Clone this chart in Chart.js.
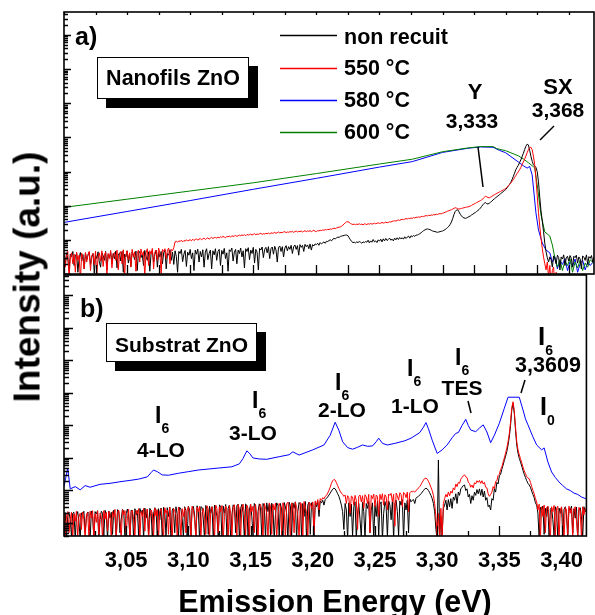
<!DOCTYPE html>
<html>
<head>
<meta charset="utf-8">
<script src="https://cdn.jsdelivr.net/npm/chart.js@4.4.1/dist/chart.umd.min.js"></script>
<style>
html,body{margin:0;padding:0;background:#fff;}
body{width:595px;height:615px;position:relative;overflow:hidden;font-family:'Liberation Sans',Arial,sans-serif;font-weight:bold;color:#000;}
canvas{position:absolute;left:0;}
#ca{top:0;}
#cb{top:270px;}
.t{position:absolute;line-height:1;white-space:nowrap;}
.c{transform:translateX(-50%);}
.s{font-size:14px;position:relative;top:10px;}
.box{position:absolute;box-sizing:border-box;background:#fff;border:1px solid #000;box-shadow:9px 9px 0 #000;text-align:center;line-height:1;white-space:nowrap;}
#ytitle{position:absolute;left:27px;top:277px;font-size:37px;line-height:1;white-space:nowrap;transform:translate(-50%,-50%) rotate(-90deg);}
#xtitle{position:absolute;left:335px;top:586px;font-size:30.5px;line-height:1;white-space:nowrap;transform:translateX(-50%);}
svg{position:absolute;left:0;top:0;}
</style>
</head>
<body>
<canvas id="ca" width="595" height="280"></canvas>
<canvas id="cb" width="595" height="355"></canvas>

<div id="ytitle">Intensity (a.u.)</div>
<div id="xtitle">Emission Energy (eV)</div>

<!-- panel a annotations -->
<div class="t" style="left:75px;top:24px;font-size:25px;">a)</div>
<div class="box" style="left:97px;top:57px;width:152px;height:42px;padding-top:10px;font-size:21.5px;">Nanofils ZnO</div>
<div class="t" style="left:344px;top:27px;font-size:21.5px;">non recuit</div>
<div class="t" style="left:344px;top:58px;font-size:21.5px;">550 °C</div>
<div class="t" style="left:344px;top:90px;font-size:21.5px;">580 °C</div>
<div class="t" style="left:344px;top:122px;font-size:21.5px;">600 °C</div>
<div class="t c" style="left:475px;top:81px;font-size:22px;">Y</div>
<div class="t c" style="left:472px;top:110px;font-size:21px;">3,333</div>
<div class="t c" style="left:558px;top:76px;font-size:22px;">SX</div>
<div class="t c" style="left:558px;top:99px;font-size:21px;">3,368</div>

<!-- panel b annotations -->
<div class="t" style="left:80px;top:296px;font-size:25px;">b)</div>
<div class="box" style="left:106px;top:323px;width:151px;height:39px;padding-top:10px;font-size:21px;">Substrat ZnO</div>
<div class="t" style="left:155px;top:404px;font-size:23px;">I<span class="s">6</span></div>
<div class="t c" style="left:161px;top:439px;font-size:21px;">4-LO</div>
<div class="t" style="left:252px;top:389px;font-size:23px;">I<span class="s">6</span></div>
<div class="t c" style="left:253px;top:422px;font-size:21px;">3-LO</div>
<div class="t" style="left:335px;top:371px;font-size:23px;">I<span class="s">6</span></div>
<div class="t c" style="left:342px;top:399px;font-size:21px;">2-LO</div>
<div class="t" style="left:407px;top:357px;font-size:23px;">I<span class="s">6</span></div>
<div class="t c" style="left:415px;top:395px;font-size:21px;">1-LO</div>
<div class="t" style="left:455px;top:346px;font-size:23px;">I<span class="s">6</span></div>
<div class="t c" style="left:462px;top:377px;font-size:21px;">TES</div>
<div class="t" style="left:538px;top:323px;font-size:26px;">I<span class="s">6</span></div>
<div class="t c" style="left:548px;top:355px;font-size:21.5px;">3,3609</div>
<div class="t" style="left:540px;top:394px;font-size:25px;">I<span class="s">0</span></div>

<svg width="595" height="615">
  <g stroke-width="1.3">
    <line x1="280" y1="35.5" x2="337" y2="35.5" stroke="#000"/>
    <line x1="280" y1="68.5" x2="337" y2="68.5" stroke="#ff0000"/>
    <line x1="280" y1="100.5" x2="337" y2="100.5" stroke="#0000ff"/>
    <line x1="280" y1="132.5" x2="337" y2="132.5" stroke="#008000"/>
  </g>
  <g stroke="#000" stroke-width="1.5">
    <line x1="478" y1="147" x2="483" y2="187"/>
    <line x1="540" y1="140" x2="554" y2="126"/>
    <line x1="468" y1="401" x2="471" y2="413"/>
    <line x1="525" y1="380" x2="521" y2="393"/>
  </g>
</svg>

<script>
// energy sampling of the dense spectra (eV): 3.000 .. 3.420, one value per 0.001 eV
const gridE = Array.from({length: 421}, (_, i) => +(3 + i * 0.001).toFixed(3));

// x axis tick labels
const xTickValues = [3.05, 3.10, 3.15, 3.20, 3.25, 3.30, 3.35, 3.40];
const xTickLabels = ['3,05', '3,10', '3,15', '3,20', '3,25', '3,30', '3,35', '3,40'];

// ---- panel a) Nanofils ZnO, log10 intensity (rows of 0.02 eV) ----
const aBlack = [
  0.55,0.30,0.62,0.45,0.10,0.58,0.50,0.66,0.25,0.52,0.60,0.05,0.48,0.63,0.38,0.57,0.15,0.61,0.42,0.55,
  0.64,0.28,0.50,0.60,0.02,0.56,0.45,0.65,0.35,0.20,0.62,0.54,0.40,0.66,0.12,0.58,0.48,0.63,0.30,0.60,
  0.45,0.67,0.18,0.55,0.62,0.38,0.66,0.05,0.58,0.50,0.68,0.32,0.60,0.22,0.64,0.55,0.42,0.67,0.10,0.61,
  0.66,0.48,0.58,0.25,0.69,0.52,0.40,0.65,0.08,0.60,0.68,0.35,0.57,0.70,0.20,0.63,0.50,0.66,0.30,0.62,
  0.70,0.15,0.60,0.55,0.71,0.40,0.64,0.28,0.68,0.52,0.05,0.66,0.60,0.72,0.36,0.58,0.69,0.22,0.64,0.55,
  0.72,0.45,0.62,0.10,0.70,0.58,0.73,0.35,0.66,0.50,0.71,0.20,0.64,0.74,0.42,0.60,0.70,0.15,0.68,0.56,
  0.74,0.40,0.66,0.72,0.25,0.69,0.58,0.75,0.45,0.62,0.08,0.71,0.66,0.76,0.38,0.64,0.72,0.30,0.70,0.60,
  0.76,0.50,0.68,0.18,0.74,0.66,0.77,0.42,0.70,0.60,0.78,0.32,0.72,0.64,0.12,0.75,0.70,0.79,0.48,0.72,
  0.78,0.62,0.80,0.45,0.74,0.79,0.58,0.81,0.70,0.35,0.78,0.82,0.66,0.80,0.50,0.76,0.83,0.68,0.80,0.72,
  0.84,0.60,0.80,0.85,0.72,0.83,0.55,0.86,0.78,0.84,0.66,0.87,0.80,0.85,0.74,0.88,0.70,0.86,0.82,0.88,
  0.86,0.90,0.84,0.92,0.88,0.91,0.94,0.90,0.96,0.95,0.98,1.00,0.97,1.02,1.04,1.03,1.06,1.08,1.07,1.10,
  1.11,1.12,1.13,1.14,1.14,1.12,1.06,1.00,0.95,0.92,0.93,0.91,0.94,0.92,0.95,0.93,0.90,0.94,0.92,0.95,
  0.93,0.99,0.91,0.97,0.93,1.01,0.94,0.97,0.92,1.00,0.96,1.02,0.94,1.03,0.97,1.04,0.98,1.01,1.05,0.99,
  1.02,0.97,1.05,1.00,1.06,1.01,1.07,1.03,1.06,1.02,1.09,1.04,1.08,1.11,1.05,1.12,1.09,1.13,1.10,1.14,
  1.14,1.16,1.18,1.21,1.24,1.27,1.29,1.31,1.32,1.31,1.30,1.28,1.26,1.25,1.24,1.23,1.22,1.23,1.24,1.25,
  1.26,1.28,1.30,1.33,1.36,1.40,1.45,1.52,1.62,1.74,1.83,1.87,1.88,1.82,1.75,1.70,1.66,1.64,1.63,1.64,
  1.66,1.68,1.70,1.73,1.75,1.78,1.80,1.83,1.86,1.89,1.93,1.98,2.03,2.07,2.09,2.06,2.05,2.07,2.10,2.13,
  2.17,2.20,2.23,2.26,2.29,2.32,2.35,2.38,2.41,2.44,2.47,2.52,2.57,2.62,2.68,2.76,2.85,2.95,3.05,3.12,
  3.18,3.26,3.34,3.43,3.53,3.64,3.74,3.80,3.78,3.62,3.45,3.30,3.20,3.16,3.12,3.00,2.70,2.25,1.85,1.55,
  1.25,0.90,0.65,0.48,0.35,0.50,0.42,0.20,0.53,0.45,0.30,0.55,0.48,0.12,0.50,0.44,0.56,0.25,0.47,0.52,
  0.38,0.54,0.46,0.20,0.52,0.48,0.55,0.32,0.50,0.44,0.15,0.53,0.49,0.40,0.56,0.28,0.51,0.46,0.54,0.35,
  0.50
];
const aRed = [
  0.60,0.20,0.52,0.66,-0.10,0.45,0.62,0.30,0.58,0.05,0.64,0.40,0.55,-0.20,0.61,0.48,0.15,0.63,0.35,0.57,
  0.66,0.10,0.54,0.60,0.28,0.67,-0.05,0.50,0.62,0.38,0.68,0.22,0.56,0.64,0.00,0.60,0.45,0.69,0.18,0.58,
  0.63,0.40,0.70,0.12,0.57,0.66,0.30,0.71,-0.10,0.55,0.68,0.42,0.62,0.20,0.72,0.50,0.65,0.08,0.60,0.70,
  0.35,0.73,0.55,0.66,-0.05,0.62,0.74,0.25,0.68,0.58,0.75,0.15,0.64,0.70,0.40,0.76,0.60,0.02,0.72,0.66,
  0.74,0.45,0.70,0.76,0.30,0.72,0.68,0.77,0.94,0.96,0.93,0.97,0.95,0.99,0.94,0.98,0.96,1.00,0.97,0.99,
  1.00,0.97,1.02,0.98,1.01,1.03,0.99,1.02,1.04,1.00,1.03,1.05,1.01,1.04,1.06,1.02,1.05,1.07,1.04,1.06,
  1.07,1.05,1.08,1.06,1.09,1.07,1.10,1.08,1.06,1.10,1.09,1.11,1.08,1.12,1.10,1.11,1.13,1.10,1.12,1.14,
  1.12,1.14,1.13,1.15,1.12,1.16,1.14,1.15,1.17,1.14,1.16,1.18,1.15,1.17,1.16,1.18,1.19,1.16,1.18,1.17,
  1.19,1.18,1.20,1.17,1.21,1.19,1.20,1.22,1.19,1.21,1.23,1.20,1.22,1.21,1.23,1.24,1.21,1.23,1.22,1.24,
  1.23,1.25,1.22,1.24,1.26,1.23,1.25,1.24,1.26,1.23,1.25,1.27,1.24,1.26,1.25,1.27,1.24,1.26,1.28,1.25,
  1.24,1.27,1.26,1.28,1.27,1.29,1.28,1.30,1.29,1.31,1.30,1.32,1.31,1.33,1.34,1.33,1.35,1.36,1.37,1.38,
  1.40,1.43,1.47,1.50,1.53,1.53,1.51,1.48,1.46,1.45,1.46,1.44,1.46,1.45,1.47,1.45,1.46,1.44,1.47,1.46,
  1.45,1.47,1.46,1.48,1.46,1.47,1.49,1.47,1.48,1.50,1.48,1.49,1.51,1.49,1.50,1.52,1.50,1.51,1.53,1.52,
  1.54,1.55,1.56,1.55,1.57,1.58,1.57,1.59,1.60,1.59,1.61,1.62,1.61,1.63,1.62,1.64,1.63,1.65,1.64,1.66,
  1.66,1.67,1.66,1.68,1.69,1.68,1.70,1.71,1.70,1.72,1.71,1.73,1.72,1.74,1.73,1.75,1.74,1.76,1.77,1.76,
  1.78,1.79,1.81,1.82,1.84,1.85,1.87,1.88,1.90,1.92,1.94,1.93,1.91,1.90,1.91,1.92,1.93,1.94,1.95,1.96,
  1.96,1.98,1.99,2.01,2.03,2.05,2.07,2.09,2.11,2.13,2.15,2.17,2.20,2.24,2.28,2.26,2.24,2.23,2.25,2.27,
  2.30,2.32,2.34,2.36,2.38,2.40,2.42,2.44,2.46,2.48,2.50,2.54,2.58,2.62,2.66,2.71,2.76,2.82,2.88,2.94,
  2.99,3.05,3.12,3.20,3.28,3.36,3.45,3.55,3.64,3.70,3.71,3.64,3.45,3.20,2.80,2.30,1.80,1.40,1.05,0.75,
  0.50,0.30,0.12,0.35,-0.10,0.25,-0.30,0.10,0.20,-0.40,0.05,-0.25,-0.50,-0.30,-0.45,-0.60,-0.40,-0.55,-0.50,-0.60,
  -0.50,-0.60,-0.40,-0.55,-0.50,-0.60,-0.45,-0.55,-0.60,-0.50,-0.40,-0.55,-0.60,-0.50,-0.45,-0.60,-0.55,-0.50,-0.60,-0.45,
  -0.50
];
const aGreenE = [3.000,3.050,3.100,3.150,3.200,3.250,3.276,3.300,3.320,3.330,3.340,3.343,3.350,3.360,3.364,3.368,3.371,3.373,3.375,3.378,3.381,3.385,3.387,3.389,3.391,3.393,3.395,3.397,3.399,3.401,3.403,3.405,3.407,3.409,3.411,3.413,3.415,3.417,3.420];
const aGreen = [1.95,2.19,2.43,2.67,2.94,3.22,3.36,3.58,3.69,3.73,3.73,3.67,3.61,3.46,3.37,3.26,3.17,3.11,2.61,1.73,1.23,1.11,0.85,0.47,0.20,0.42,0.10,0.38,0.25,0.45,0.05,0.35,0.18,0.40,0.10,0.32,0.20,0.42,0.30];
const aBlueE = [3.000,3.050,3.100,3.150,3.200,3.250,3.276,3.300,3.320,3.330,3.340,3.345,3.350,3.360,3.364,3.367,3.369,3.371,3.374,3.376,3.379,3.382,3.385,3.387,3.389,3.391,3.393,3.395,3.397,3.399,3.401,3.403,3.405,3.407,3.409,3.411,3.413,3.415,3.417,3.420];
const aBlue = [1.51,1.83,2.15,2.48,2.80,3.13,3.29,3.56,3.68,3.72,3.71,3.62,3.55,3.28,3.17,3.10,3.15,2.90,1.79,1.29,0.91,0.70,0.62,0.35,0.50,0.15,0.40,0.28,0.45,0.10,0.36,0.22,0.44,0.05,0.30,0.40,0.12,0.35,0.25,0.38];

// ---- panel b) Substrat ZnO, log10 intensity (rows of 0.02 eV) ----
const bBlack = [
  0.25,0.32,-0.50,0.20,0.34,0.10,-0.40,0.30,0.33,-0.50,0.22,0.35,0.05,-0.50,0.31,0.28,0.36,-0.30,0.15,0.34,
  0.30,-0.50,0.37,0.20,-0.45,0.35,0.28,0.38,-0.50,0.10,0.36,0.30,-0.40,0.39,0.25,-0.50,0.37,0.15,0.33,-0.35,
  0.40,0.22,-0.50,0.41,0.35,-0.30,0.12,0.42,0.38,-0.50,0.30,0.43,0.20,-0.45,0.40,0.35,-0.50,0.44,0.25,0.38,
  -0.40,0.45,0.30,0.40,-0.50,0.46,0.15,0.42,-0.35,0.45,0.38,-0.50,0.28,0.47,0.40,-0.45,0.44,0.10,0.46,-0.50,
  0.48,0.35,-0.40,0.47,0.20,0.49,-0.50,0.40,0.46,-0.30,0.50,0.28,-0.50,0.48,0.42,0.15,-0.45,0.50,0.38,-0.50,
  0.52,0.40,-0.50,0.45,0.51,0.25,-0.40,0.53,0.35,-0.50,0.50,0.48,0.12,-0.50,0.54,0.42,-0.35,0.52,0.30,0.50,
  -0.50,0.55,0.40,0.20,-0.45,0.56,0.48,-0.50,0.52,0.30,0.57,-0.40,0.45,0.55,-0.50,0.25,0.56,0.50,-0.30,0.54,
  0.58,-0.50,0.45,0.57,0.30,-0.45,0.59,0.50,-0.50,0.40,0.58,0.20,-0.40,0.60,0.52,-0.50,0.35,0.59,0.48,-0.45,
  0.60,0.50,-0.50,0.62,0.35,0.58,-0.40,0.61,0.45,-0.50,0.25,0.62,0.55,-0.45,0.60,0.40,-0.50,0.63,0.50,0.30,
  -0.50,0.64,0.52,-0.40,0.62,0.45,0.65,-0.50,0.35,0.63,0.58,-0.45,0.60,0.20,0.66,-0.50,0.55,0.64,-0.35,0.62,
  0.60,-0.45,0.64,0.50,0.66,0.20,0.68,0.62,0.70,0.55,0.72,0.76,0.80,0.86,0.92,0.98,1.04,1.07,1.05,0.98,
  0.90,0.82,0.70,0.55,0.35,-0.20,0.60,0.40,-0.50,0.62,0.20,0.58,-0.40,0.50,0.65,-0.50,0.30,0.60,0.10,-0.45,
  0.64,0.35,-0.50,0.60,0.45,0.66,-0.30,0.40,0.62,-0.50,0.55,0.20,0.67,-0.40,0.58,0.65,-0.50,0.30,0.66,0.50,
  -0.45,0.68,0.55,0.10,0.66,-0.50,0.60,0.70,0.35,-0.40,0.68,0.55,0.72,-0.50,0.62,0.40,0.70,-0.30,0.74,0.65,
  0.70,0.72,0.60,0.76,0.80,0.82,0.86,0.90,0.95,1.00,1.05,1.07,1.05,1.00,0.93,0.85,0.75,0.60,0.35,-0.20,
  -0.50,1.94,-0.50,0.20,-0.40,0.45,0.55,0.70,0.40,0.72,0.50,0.75,0.45,0.80,0.70,0.90,0.60,0.95,0.85,1.05,
  1.10,1.15,1.17,1.00,1.05,0.80,0.88,0.60,0.84,0.70,0.95,0.85,1.03,0.90,1.05,0.85,1.04,0.80,0.98,0.70,
  0.78,0.50,0.55,0.40,0.75,0.70,1.05,0.95,1.25,1.20,1.45,1.50,1.65,1.78,1.92,2.05,2.20,2.40,2.65,3.00,
  3.48,3.68,3.38,2.85,2.40,2.15,1.99,1.88,1.75,1.62,1.50,1.40,1.30,1.22,1.17,1.10,0.98,0.88,0.78,0.62,
  0.55,0.30,-0.50,0.48,0.40,0.52,-0.35,0.45,0.20,0.50,-0.50,0.42,0.48,0.10,-0.40,0.50,0.36,-0.50,0.46,0.30,
  0.48,-0.40,0.42,0.50,0.25,-0.50,0.46,0.38,0.52,-0.30,0.44,0.15,0.49,-0.50,0.40,0.47,0.20,-0.45,0.50,0.35,
  0.42
];
const bRed = [
  0.30,-0.50,0.22,0.35,-0.30,0.12,0.33,-0.50,0.28,0.05,0.36,-0.45,0.18,0.30,-0.20,0.34,0.10,-0.50,0.26,0.32,
  -0.40,0.36,0.15,0.38,-0.50,0.28,0.02,0.37,-0.35,0.30,0.20,-0.50,0.38,0.12,0.33,-0.25,0.36,0.25,-0.50,0.35,
  0.18,0.42,-0.45,0.30,0.40,0.05,-0.50,0.41,0.25,0.38,-0.30,0.15,0.42,-0.50,0.33,0.40,0.10,-0.40,0.39,0.28,
  0.44,-0.50,0.35,0.20,0.45,-0.25,0.38,0.43,-0.50,0.12,0.40,0.30,-0.45,0.46,0.22,0.41,-0.50,0.35,0.44,0.08,
  -0.50,0.47,0.30,0.40,-0.35,0.48,0.15,-0.50,0.45,0.38,0.25,-0.40,0.49,0.33,-0.50,0.44,0.20,0.47,-0.30,0.40,
  0.50,0.28,-0.50,0.52,0.40,0.10,-0.45,0.49,0.35,0.51,-0.50,0.30,0.45,0.18,-0.35,0.53,0.42,-0.50,0.38,0.50,
  0.25,-0.50,0.55,0.44,-0.30,0.50,0.35,0.54,-0.50,0.20,0.52,0.40,-0.45,0.55,0.30,-0.50,0.48,0.56,0.15,-0.40,
  0.57,0.42,-0.50,0.50,0.58,0.25,-0.40,0.55,0.45,-0.50,0.58,0.35,0.52,-0.30,0.57,0.20,-0.50,0.54,0.58,0.40,
  -0.45,0.60,0.48,0.30,-0.50,0.62,0.52,-0.35,0.58,0.40,0.61,-0.50,0.25,0.60,0.50,-0.40,0.62,0.45,-0.50,0.59,
  0.64,0.35,-0.50,0.62,0.55,-0.30,0.65,0.48,0.20,-0.50,0.63,0.58,-0.40,0.66,0.50,0.30,-0.50,0.64,0.60,0.45,
  0.65,-0.30,0.68,0.55,0.72,0.40,0.75,0.70,0.78,0.74,0.82,0.85,0.92,1.00,1.10,1.22,1.30,1.34,1.32,1.24,
  1.15,1.06,0.98,0.92,0.88,0.82,0.86,0.60,0.84,0.78,0.30,0.83,0.80,0.55,0.85,0.70,-0.20,0.82,0.86,0.65,
  0.84,0.45,0.87,0.80,0.60,0.88,-0.30,0.85,0.75,0.89,0.50,0.86,0.82,0.20,0.88,0.72,0.90,0.55,0.87,0.80,
  0.40,0.89,0.85,0.91,0.65,0.88,-0.10,0.92,0.84,0.70,0.93,0.88,0.50,0.94,0.90,0.78,0.95,0.35,0.93,0.97,
  0.96,0.98,0.95,1.00,1.03,1.08,1.12,1.18,1.25,1.32,1.37,1.38,1.35,1.28,1.20,1.10,1.00,0.85,0.60,0.20,
  -0.50,0.30,-0.50,0.45,-0.40,0.60,0.75,0.88,0.80,0.95,0.84,0.98,0.92,1.08,1.02,1.20,1.12,1.25,1.22,1.35,
  1.40,1.45,1.48,1.42,1.40,1.26,1.22,1.10,1.17,1.08,1.24,1.20,1.30,1.25,1.31,1.22,1.30,1.20,1.25,1.10,
  1.08,0.90,0.82,0.88,0.95,1.12,1.05,1.28,1.30,1.46,1.50,1.65,1.72,1.87,2.00,2.15,2.30,2.50,2.75,3.10,
  3.55,3.73,3.45,2.95,2.50,2.25,2.10,1.98,1.85,1.72,1.60,1.52,1.42,1.38,1.36,1.25,1.12,1.00,0.90,0.75,
  0.65,0.40,0.58,-0.50,0.50,0.20,0.55,-0.30,0.48,0.52,0.10,-0.50,0.50,0.35,0.54,-0.40,0.45,0.52,-0.50,0.40,
  0.50,0.15,-0.50,0.48,0.40,-0.35,0.52,0.30,0.46,-0.50,0.44,0.50,0.05,-0.40,0.48,0.38,-0.50,0.50,0.25,0.45,
  0.40
];
const bBlueE = [3.000,3.003,3.005,3.009,3.013,3.017,3.021,3.029,3.037,3.045,3.053,3.060,3.067,3.070,3.072,3.075,3.079,3.084,3.092,3.100,3.108,3.124,3.135,3.141,3.144,3.147,3.149,3.152,3.157,3.163,3.173,3.181,3.184,3.189,3.200,3.209,3.214,3.218,3.221,3.224,3.228,3.232,3.236,3.240,3.244,3.248,3.251,3.253,3.256,3.260,3.266,3.274,3.279,3.286,3.289,3.291,3.293,3.296,3.300,3.304,3.308,3.312,3.315,3.317,3.320,3.323,3.325,3.327,3.331,3.334,3.337,3.340,3.343,3.346,3.350,3.354,3.357,3.366,3.369,3.371,3.373,3.377,3.380,3.384,3.386,3.389,3.392,3.395,3.398,3.401,3.404,3.407,3.410,3.413,3.416,3.420];
const bBlue = [1.12,1.69,1.05,1.12,1.02,1.15,1.10,1.19,1.22,1.27,1.31,1.35,1.42,1.55,1.63,1.58,1.48,1.47,1.53,1.58,1.63,1.69,1.73,1.82,1.99,2.22,2.15,2.00,1.97,1.96,2.04,2.10,2.19,2.09,2.25,2.40,2.70,3.10,2.85,2.50,2.32,2.27,2.33,2.40,2.36,2.37,2.50,2.61,2.45,2.40,2.45,2.53,2.61,2.78,2.95,3.09,2.90,2.55,2.14,2.25,2.40,2.62,2.76,2.78,3.00,3.19,3.00,2.86,2.81,2.92,3.02,2.80,2.47,2.70,3.07,3.53,3.87,3.87,3.48,3.20,3.02,2.65,2.40,2.25,2.31,1.88,1.57,1.40,1.26,1.15,1.05,1.00,0.92,0.88,0.80,0.74];

const pts = (es, logs) => logs.map((v, i) => ({x: es[i], y: 10 ** v}));
const line = (data, color) => ({data, borderColor: color, borderWidth: 1, pointRadius: 0, tension: 0, fill: false});

// frame + inward ticks (log minors on the left, 0.025 eV steps along x)
const frameTicks = {
  id: 'frameTicks',
  afterDatasetsDraw(chart, args, o) {
    const {ctx, chartArea: a, scales: {x, y}} = chart;
    ctx.save();
    ctx.strokeStyle = '#000';
    ctx.lineWidth = 1.3;
    ctx.beginPath();
    for (let k = 0; k <= 16; k++) {
      const px = Math.round(x.getPixelForValue(3 + k * 0.025)) + 0.5;
      const len = k % 2 === 0 ? o.xMajor : o.xMinor;
      ctx.moveTo(px, a.bottom); ctx.lineTo(px, a.bottom - len);
      if (o.xTop) { ctx.moveTo(px, a.top); ctx.lineTo(px, a.top + o.xTop); }
    }
    const lo = Math.floor(Math.log10(y.min)), hi = Math.ceil(Math.log10(y.max));
    for (let d = lo; d <= hi; d++) {
      for (let m = 1; m <= 9; m++) {
        const v = m * 10 ** d;
        if (v < y.min || v > y.max) continue;
        const py = Math.round(y.getPixelForValue(v)) + 0.5;
        ctx.moveTo(a.left, py); ctx.lineTo(a.left + (m === 1 ? o.yMajor : o.yMinor), py);
      }
    }
    ctx.stroke();
    ctx.lineWidth = 1.6;
    ctx.strokeRect(a.left, a.top, a.right - a.left, a.bottom - a.top);
    ctx.restore();
  }
};

Chart.defaults.font.family = "'Liberation Sans', Arial, sans-serif";
Chart.defaults.color = '#000';

new Chart(document.getElementById('ca'), {
  type: 'line',
  data: {datasets: [
    line(pts(gridE, aRed), '#ff0000'),
    line(pts(gridE, aBlack), '#000000'),
    line(pts(aGreenE, aGreen), '#008000'),
    line(pts(aBlueE, aBlue), '#0000ff')
  ]},
  options: {
    responsive: false, animation: false, devicePixelRatio: 1,
    layout: {padding: {left: 64, right: 1, top: 12, bottom: 6}},
    plugins: {legend: {display: false}, tooltip: {enabled: false},
      frameTicks: {xMajor: 9, xMinor: 9, xTop: 3, yMajor: 7, yMinor: 4}},
    scales: {
      x: {type: 'linear', min: 3.0, max: 3.42, display: false},
      y: {type: 'logarithmic', min: 1, max: 10 ** 7.67, display: false}
    }
  },
  plugins: [frameTicks]
});

new Chart(document.getElementById('cb'), {
  type: 'line',
  data: {datasets: [
    line(pts(gridE, bRed), '#ff0000'),
    line(pts(gridE, bBlack), '#000000'),
    line(pts(bBlueE, bBlue), '#0000ff')
  ]},
  options: {
    responsive: false, animation: false, devicePixelRatio: 1,
    layout: {padding: {left: 64, right: 1, top: 5, bottom: 0}, autoPadding: false},
    plugins: {legend: {display: false}, tooltip: {enabled: false},
      frameTicks: {xMajor: 10, xMinor: 5, xTop: 0, yMajor: 9, yMinor: 5}},
    scales: {
      x: {
        type: 'linear', min: 3.0, max: 3.42,
        grid: {display: false, drawTicks: false},
        border: {display: false},
        afterBuildTicks: s => { s.ticks = xTickValues.map(v => ({value: v})); },
        afterFit: s => { s.height = 89; },
        ticks: {autoSkip: false, maxRotation: 0, padding: 12,
          font: {size: 22, weight: 'bold'}, color: '#000',
          callback: (v, i) => xTickLabels[i]}
      },
      y: {type: 'logarithmic', min: 10 ** -0.4, max: 10 ** 7.63, display: false}
    }
  },
  plugins: [frameTicks]
});
</script>
</body>
</html>
